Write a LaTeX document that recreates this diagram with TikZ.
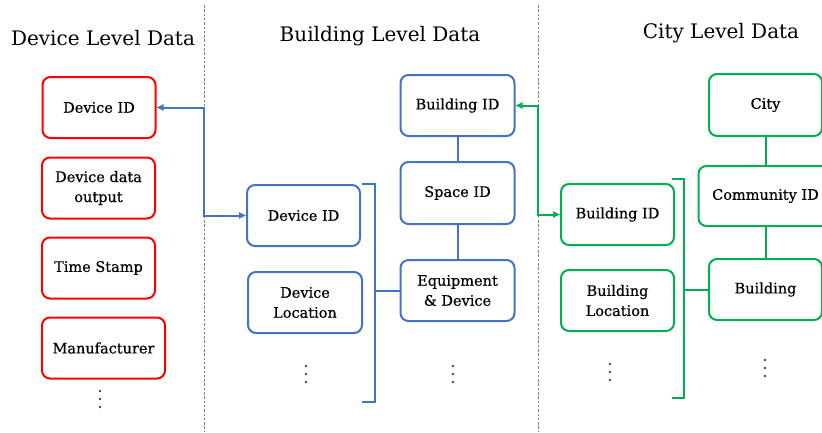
\documentclass[tikz,border=0pt]{standalone}
\usepackage{fontspec}
\setmainfont{DejaVu Serif}[BoldFont=DejaVu Serif, BoldFeatures={FakeBold=0.5}]
\usetikzlibrary{arrows.meta}
\definecolor{cred}{RGB}{255,0,0}
\definecolor{cblue}{RGB}{68,114,196}
\definecolor{cgreen}{RGB}{0,176,80}
\definecolor{cdots}{RGB}{70,70,70}
\begin{document}
\begin{tikzpicture}[x=1pt,y=-1pt,
  box/.style={draw, line width=2pt, rounded corners=8pt, minimum width=113pt, minimum height=61pt, align=center, font=\fontsize{14.5}{20}\selectfont\bfseries, inner sep=2pt},
  rbox/.style={box, draw=cred},
  bbox/.style={box, draw=cblue},
  gbox/.style={box, draw=cgreen},
  title/.style={font=\fontsize{20}{24}\selectfont},
  sep/.style={draw=gray, line width=0.9pt, dash pattern=on 2.5pt off 1.8pt},
  dotc/.style={fill=cdots, draw=none},
  bl/.style={draw=cblue, line width=2pt},
  gl/.style={draw=cgreen, line width=2pt},
  arr/.style={{Triangle[length=7pt,width=6pt]}-{Triangle[length=7pt,width=6pt]}}
]
\useasboundingbox (0,0) rectangle (822,432);

% separators
\coordinate (s1t) at (204,5); \coordinate (s1b) at (204,432);
\coordinate (s2t) at (538,5); \coordinate (s2b) at (538,432);
\draw[sep] (s1t) -- (s1b);
\draw[sep] (s2t) -- (s2b);

% titles
\node[title] (t1) at (103,38) {Device Level Data};
\node[title] (t2) at (380,36) {Building Level Data};
\node[title] (t3) at (721,33) {City Level Data};

% device level
\node[rbox] (rdid) at (99,107.5) {Device ID};
\node[rbox] (rdo) at (98.5,188) {Device data\\output};
\node[rbox] (rts) at (98.5,268) {Time Stamp};
\node[rbox, minimum width=123pt] (rman) at (103.5,348) {Manufacturer};
\foreach \y in {391,399,407} \fill[dotc] (100,\y) circle (1.3pt);

% building level
\node[bbox, minimum width=114pt] (bbid) at (457.5,105.5) {Building ID};
\node[bbox, minimum width=114pt, minimum height=62pt] (bsid) at (457.5,193) {Space ID};
\node[bbox, minimum width=114pt] (beq) at (457.5,290.5) {Equipment\\\& Device};
\node[bbox] (bdid) at (303.5,215.5) {Device ID};
\node[bbox, minimum width=114pt] (bdl) at (305,302.5) {Device\\Location};
\foreach \y in {366,374,382} \fill[dotc] (306,\y) circle (1.3pt);
\foreach \y in {366,374,382} \fill[dotc] (453,\y) circle (1.3pt);
\draw[bl] (bbid) -- (bsid);
\draw[bl] (bsid) -- (beq);
\coordinate (bbr1) at (362,184);
\coordinate (bbr2) at (375,184);
\coordinate (bbr3) at (375,402);
\coordinate (bbr4) at (362,402);
\draw[bl] (bbr1) -- (bbr2) -- (bbr3) -- (bbr4);
\coordinate (bbrm) at (375,290.5);
\draw[bl] (bbrm) -- (beq.west);

% city level
\node[gbox, minimum height=62pt] (gcity) at (765.5,105) {City};
\node[gbox, minimum width=134pt, minimum height=60pt] (gcom) at (765.5,196) {Community ID};
\node[gbox] (gbld) at (765.5,289.5) {Building};
\node[gbox] (gbid) at (617.5,214.5) {Building ID};
\node[gbox] (gbl) at (617.5,300.5) {Building\\Location};
\foreach \y in {364,372,380} \fill[dotc] (610,\y) circle (1.3pt);
\foreach \y in {360,368,376} \fill[dotc] (765,\y) circle (1.3pt);
\draw[gl] (gcity) -- (gcom);
\draw[gl] (gcom) -- (gbld);
\coordinate (gbr1) at (672,179);
\coordinate (gbr2) at (684,179);
\coordinate (gbr3) at (684,398);
\coordinate (gbr4) at (672,398);
\draw[gl] (gbr1) -- (gbr2) -- (gbr3) -- (gbr4);
\coordinate (gbrm) at (684,289.5);
\draw[gl] (gbrm) -- (gbld.west);

% cross-level arrows
\coordinate (j1) at (204,215.5);
\draw[bl, arr] (rdid.east) -| (j1) -- (bdid.west);
\coordinate (j2) at (538,214.5);
\draw[gl, arr] (bbid.east) -| (j2) -- (gbid.west);
\end{tikzpicture}
\end{document}
